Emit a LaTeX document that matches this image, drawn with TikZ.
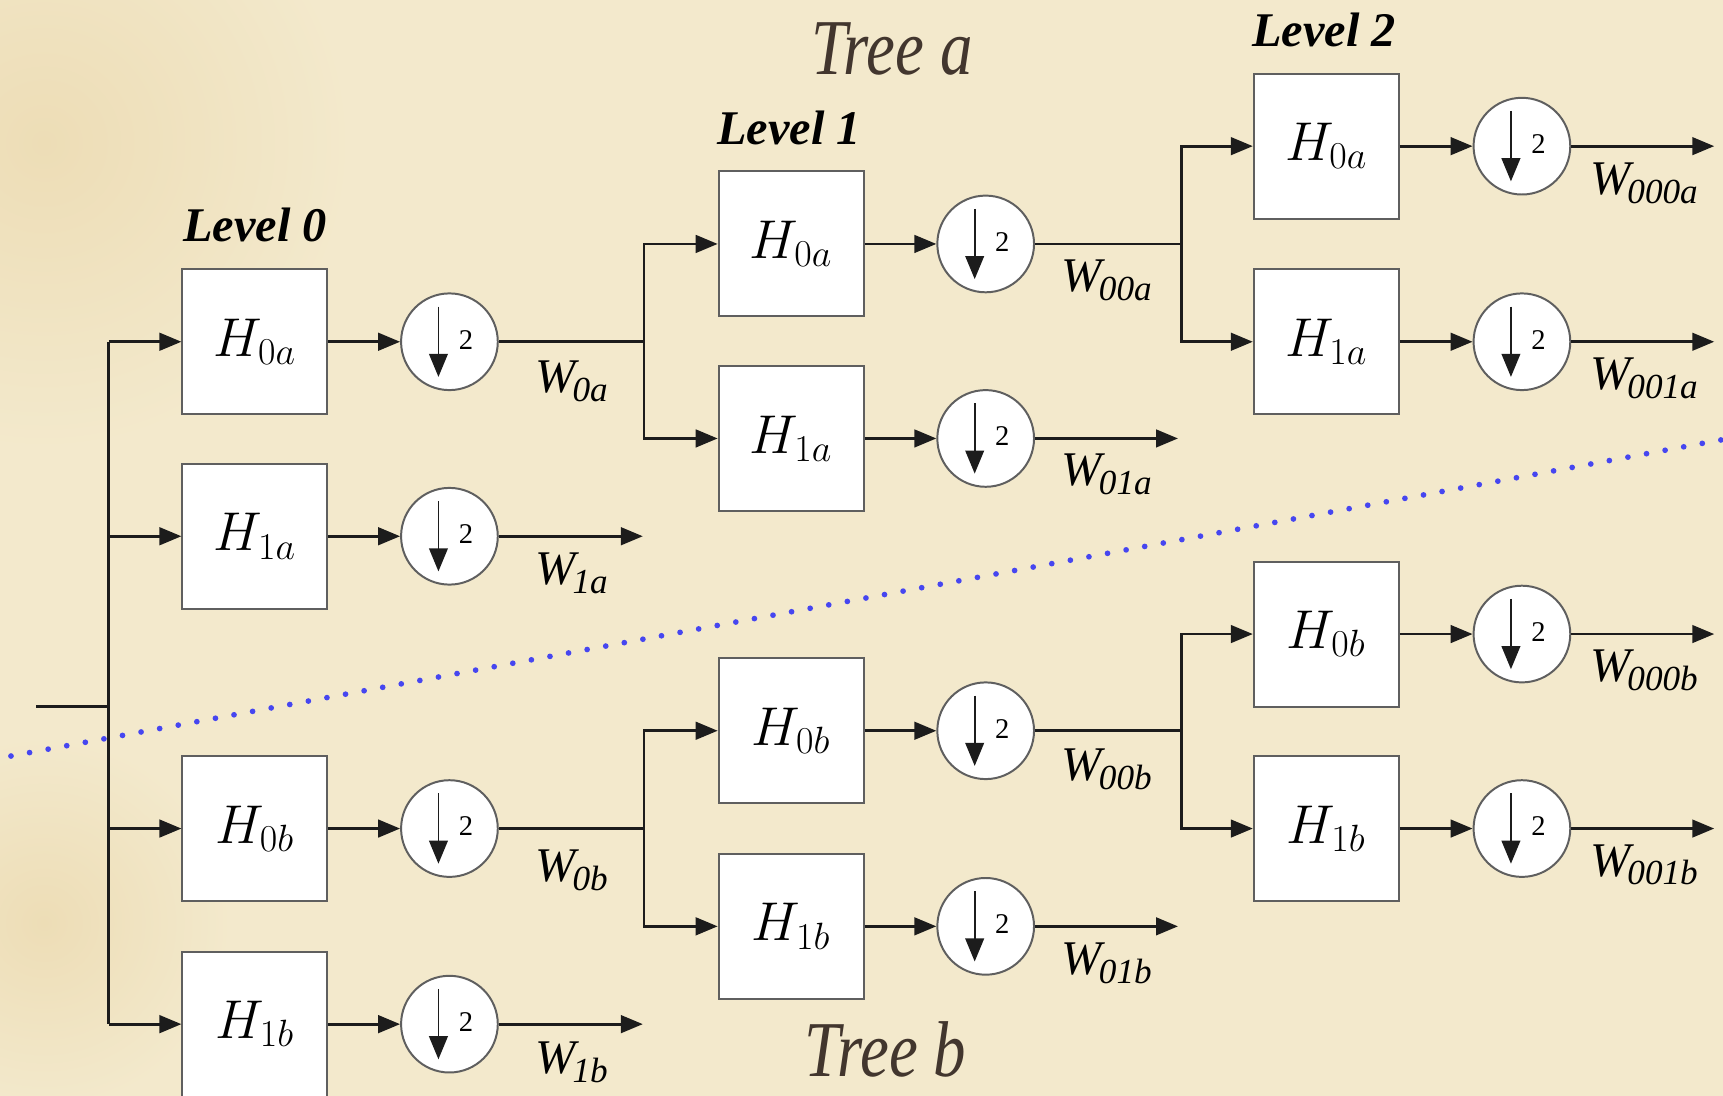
\documentclass[tikz,border=0pt]{standalone}
\usepackage{fontspec}
\setmainfont{Liberation Serif}
\usepackage{graphicx}
\usetikzlibrary{arrows.meta}
\definecolor{paper}{RGB}{243,233,204}
\definecolor{paperdark}{RGB}{237,221,182}
\definecolor{ink}{RGB}{28,28,28}
\definecolor{boxline}{RGB}{95,95,95}
\definecolor{dotblue}{RGB}{70,70,240}
\definecolor{treebrown}{RGB}{66,54,46}
\newcommand{\Wlab}[1]{{\fontsize{22}{25}\selectfont\itshape W\kern-1.5pt\raisebox{-4pt}{\fontsize{16}{18}\selectfont #1}}}
\newcommand{\dsym}[1]{%
  \draw[darr] ([shift={(-10,-32)}]#1.center) -- ([shift={(-10,32)}]#1.center);
  \node[twolab] (#1-two) at ([shift={(15,-2)}]#1.center) {2};}
\tikzset{
  filt/.style={rectangle, draw=boxline, line width=0.9pt, fill=white, minimum size=66pt, inner sep=0pt, font=\fontsize{26}{30}\selectfont},
  dsamp/.style={circle, draw=boxline, line width=0.9pt, fill=white, minimum size=44pt, inner sep=0pt},
  sig/.style={draw=ink, line width=1.25pt},
  arr/.style={sig, -{Triangle[length=10pt,width=8pt]}},
  darr/.style={draw=ink, line width=0.8pt, -{Triangle[length=10.5pt,width=8.5pt]}},
  twolab/.style={inner sep=0pt, font=\fontsize{13}{15}\selectfont},
  wlab/.style={anchor=north west, inner sep=0pt},
  lvl/.style={inner sep=0pt, font=\fontsize{22}{26}\selectfont\bfseries\itshape},
  treelab/.style={inner sep=0pt, anchor=base, text=treebrown, font=\fontsize{36}{40}\selectfont\itshape}
}
\begin{document}
\begin{tikzpicture}[x=0.5pt,y=-0.5pt]
\useasboundingbox (0,0) rectangle (1568,997);
\fill[paper] (0,0) rectangle (1568,997);
\shade[inner color=paperdark, outer color=paper] (40,130) circle[radius=280];
\shade[inner color=paperdark, outer color=paper] (40,840) circle[radius=170];

% titles
\node[treelab] (treea) at (812,68) {\scalebox{0.82}[1]{Tree a}};
\node[treelab] (treeb) at (806,980) {\scalebox{0.82}[1]{Tree b}};
\node[lvl] (lvl0) at (232,205) {Level 0};
\node[lvl] (lvl1) at (718,116) {Level 1};
\node[lvl] (lvl2) at (1205,27) {Level 2};

% level 0
\foreach \n/\y/\lab in {A0/311/0a, A1/488/1a, B0/754/0b, B1/932/1b} {
  \node[filt] (\n) at (232,\y) {$H_{\lab}$};
  \node[dsamp] (d\n) at (409,\y) {};
  \draw[arr] (\n) -- (d\n);
  \dsym{d\n}
}
% level 1
\foreach \n/\y/\lab in {AA0/222/0a, AA1/399/1a, BB0/665/0b, BB1/843/1b} {
  \node[filt] (\n) at (720,\y) {$H_{\lab}$};
  \node[dsamp] (d\n) at (897,\y) {};
  \draw[arr] (\n) -- (d\n);
  \dsym{d\n}
}
% level 2
\foreach \n/\y/\lab in {AAA0/133/0a, AAA1/311/1a, BBB0/577/0b, BBB1/754/1b} {
  \node[filt] (\n) at (1207,\y) {$H_{\lab}$};
  \node[dsamp] (d\n) at (1385,\y) {};
  \draw[arr] (\n) -- (d\n);
  \dsym{d\n}
}

% input bus
\coordinate (in) at (33,643);
\coordinate (bus) at (99,643);
\coordinate (busT) at (99,311);
\coordinate (busB) at (99,932);
\draw[sig] (in) -- (bus);
\draw[sig] (busT) -- (busB);
\foreach \n in {A0,A1,B0,B1} \draw[arr] (busT |- \n) -- (\n);

% level 0 -> level 1
\coordinate (sA) at (586,311);
\coordinate (sB) at (586,754);
\draw[sig] (dA0) -- (sA);
\draw[arr] (sA) |- (AA0);
\draw[arr] (sA) |- (AA1);
\draw[sig] (dB0) -- (sB);
\draw[arr] (sB) |- (BB0);
\draw[arr] (sB) |- (BB1);
\coordinate (oA1) at (585,488);
\coordinate (oB1) at (585,932);
\draw[arr] (dA1) -- (oA1);
\draw[arr] (dB1) -- (oB1);

% level 1 -> level 2
\coordinate (sAA) at (1075,222);
\coordinate (sBB) at (1075,665);
\draw[sig] (dAA0) -- (sAA);
\draw[arr] (sAA) |- (AAA0);
\draw[arr] (sAA) |- (AAA1);
\draw[sig] (dBB0) -- (sBB);
\draw[arr] (sBB) |- (BBB0);
\draw[arr] (sBB) |- (BBB1);
\coordinate (oAA1) at (1072,399);
\coordinate (oBB1) at (1072,843);
\draw[arr] (dAA1) -- (oAA1);
\draw[arr] (dBB1) -- (oBB1);

% outputs
\foreach \n in {AAA0,AAA1,BBB0,BBB1} {
  \coordinate (o\n) at (1560,0 |- d\n);
  \draw[arr] (d\n) -- (o\n);
}

% labels
\node[wlab] (w0a) at (487,328) {\Wlab{0a}};
\node[wlab] (w1a) at (487,503) {\Wlab{1a}};
\node[wlab] (w0b) at (487,773) {\Wlab{0b}};
\node[wlab] (w1b) at (487,948) {\Wlab{1b}};
\node[wlab] (w00a) at (966,236) {\Wlab{00a}};
\node[wlab] (w01a) at (966,413) {\Wlab{01a}};
\node[wlab] (w00b) at (966,681) {\Wlab{00b}};
\node[wlab] (w01b) at (966,858) {\Wlab{01b}};
\node[wlab] (w000a) at (1447,148) {\Wlab{000a}};
\node[wlab] (w001a) at (1447,325) {\Wlab{001a}};
\node[wlab] (w000b) at (1447,591) {\Wlab{000b}};
\node[wlab] (w001b) at (1447,768) {\Wlab{001b}};

% dotted separator
\coordinate (dl) at (10,688);
\coordinate (dr) at (1568,400);
\draw[dotblue, line width=2.6pt, line cap=round, dash pattern=on 0pt off 8.6pt] (dl) -- (dr);
\end{tikzpicture}
\end{document}
